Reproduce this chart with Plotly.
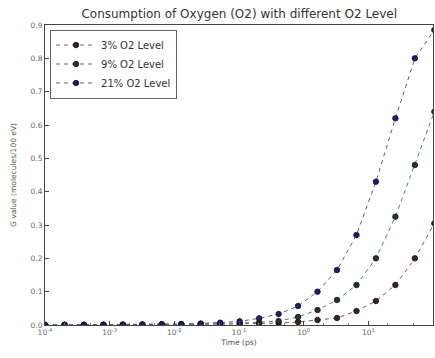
import plotly.graph_objects as go

# Time points (ps): doubling from 1e-4
time_ps = [1e-4 * 2**k for k in range(21)]

g_3 = [0.0002, 0.0003, 0.0004, 0.0005, 0.0007, 0.0009, 0.0012, 0.0015, 0.002, 0.0027,
       0.0035, 0.0045, 0.006, 0.009, 0.015, 0.021, 0.042, 0.072, 0.12, 0.20, 0.305]
g_9 = [0.0003, 0.0004, 0.0006, 0.0008, 0.001, 0.0013, 0.0017, 0.0023, 0.003, 0.004,
       0.0055, 0.008, 0.012, 0.024, 0.045, 0.075, 0.12, 0.20, 0.325, 0.48, 0.64]
g_21 = [0.0004, 0.0006, 0.0008, 0.001, 0.0013, 0.0017, 0.0023, 0.003, 0.0045, 0.007,
        0.011, 0.02, 0.033, 0.057, 0.10, 0.165, 0.27, 0.43, 0.62, 0.80, 0.885]

series_names = ["3% O2 Level", "9% O2 Level", "21% O2 Level"]
series_vals = [g_3, g_9, g_21]
marker_colors = ["#3a2226", "#22382a", "#1c1c7a"]
line_colors = ["#7a5a5a", "#5a7a64", "#5a5a8a"]

x_tickvals = [1e-4, 1e-3, 1e-2, 1e-1, 1e0, 1e1, 1e2]
x_ticktext = ["10<sup>-4</sup>", "10<sup>-3</sup>", "10<sup>-2</sup>", "10<sup>-1</sup>",
              "10<sup>0</sup>", "10<sup>1</sup>", "10<sup>2</sup>"]
y_tickvals = [0.0, 0.1, 0.2, 0.3, 0.4, 0.5, 0.6, 0.7, 0.8, 0.9]

fig = go.Figure()
for name, vals, mc, lc in zip(series_names, series_vals, marker_colors, line_colors):
    fig.add_trace(go.Scatter(
        x=time_ps, y=vals, name=name, mode="lines+markers",
        line=dict(color=lc, width=1, dash="4px,4px"),
        marker=dict(color=mc, size=5.5, line=dict(color="#111", width=0.8)),
    ))

font_family = "DejaVu Sans, Verdana, sans-serif"
fig.update_layout(
    width=435, height=358,
    margin=dict(l=45, r=2, t=25, b=33),
    paper_bgcolor="white", plot_bgcolor="white",
    font=dict(family=font_family, color="#555", size=8),
    title=dict(text="Consumption of Oxygen (O2) with different O2 Level",
               xref="container", x=0.55, xanchor="center",
               yref="container", y=0.962, yanchor="middle",
               font=dict(size=12, color="#333")),
    legend=dict(x=0.013, y=0.985, xanchor="left", yanchor="top",
                bordercolor="#666", borderwidth=1, bgcolor="white",
                font=dict(size=10, color="#333"), itemwidth=40,
                tracegroupgap=0),
    showlegend=True,
)
fig.update_xaxes(
    type="log", range=[-4, 2], tickvals=x_tickvals, ticktext=x_ticktext,
    showgrid=False, showline=True, linecolor="#444", linewidth=1, mirror=True,
    ticks="inside", ticklen=4, tickcolor="#444", tickfont=dict(size=7.5, color="#666"),
    minor=dict(ticks="inside", ticklen=2, tickcolor="#777"),
    title=dict(text="Time (ps)", font=dict(size=7.5, color="#555"), standoff=3),
    zeroline=False,
)
fig.update_yaxes(
    range=[0, 0.9], tickvals=y_tickvals, tickformat=".1f",
    showgrid=False, showline=True, linecolor="#444", linewidth=1, mirror=True,
    ticks="inside", ticklen=4, tickcolor="#444", tickfont=dict(size=7.5, color="#666"),
    title=dict(text="G value (molecules/100 eV)", font=dict(size=7.5, color="#555"), standoff=12),
    zeroline=False,
)
fig.write_html("out.html")
